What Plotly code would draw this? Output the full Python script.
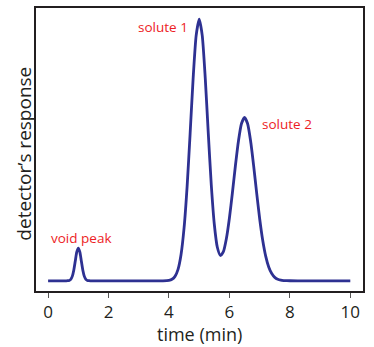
import plotly.graph_objects as go

# Chromatogram: detector response sampled along the run (min)
time_min = [0.0, 0.5, 0.6, 0.65, 0.7, 0.75, 0.8, 0.85, 0.9, 0.95, 1.0,
            1.05, 1.1, 1.15, 1.2, 1.25, 1.3, 1.35, 1.4, 1.5, 2.0, 3.0, 3.8,
            4.0, 4.1, 4.2, 4.3, 4.4, 4.5, 4.6, 4.7, 4.8, 4.9, 5.0,
            5.1, 5.2, 5.3, 5.4, 5.5, 5.6, 5.7, 5.8, 5.9, 6.0,
            6.1, 6.2, 6.3, 6.4, 6.5, 6.6, 6.7, 6.8, 6.9, 7.0,
            7.1, 7.2, 7.3, 7.4, 7.5, 7.6, 7.7, 7.8, 7.9, 8.0, 8.5, 9.0, 10.0]
response = [0.0, 0.0, 0.0, 0.0003, 0.0014, 0.0055, 0.0169, 0.0406, 0.0758, 0.1103, 0.125,
            0.1103, 0.0758, 0.0406, 0.0169, 0.0055, 0.0014, 0.0003, 0.0, 0.0, 0.0, 0.0, 0.0,
            0.0017, 0.0057, 0.0169, 0.0439, 0.1007, 0.2030, 0.3604, 0.5633, 0.7748, 0.9382, 1.0,
            0.9385, 0.7757, 0.5657, 0.3663, 0.2162, 0.1282, 0.0968, 0.1113, 0.1616, 0.2400,
            0.3375, 0.4417, 0.5356, 0.6014, 0.625, 0.6014, 0.5356, 0.4416, 0.3371, 0.2383,
            0.1559, 0.0944, 0.0529, 0.0275, 0.0132, 0.0059, 0.0024, 0.0009, 0.0003, 0.0001, 0.0, 0.0, 0.0]

# Peak labels
peak_labels = ["void peak", "solute 1", "solute 2"]
label_x = [1.08, 3.80, 7.91]
label_y = [0.165, 0.971, 0.600]

x_ticks = [0, 2, 4, 6, 8, 10]

LINE = "#2e3192"
RED = "#ed1c24"
INK = "#231f20"
FONT = "Open Sans"

fig = go.Figure()
fig.add_trace(go.Scatter(
    x=time_min, y=response, mode="lines",
    line=dict(color=LINE, width=2.8, shape="spline", smoothing=0.6),
    hoverinfo="skip", showlegend=False,
))

for txt, lx, ly in zip(peak_labels, label_x, label_y):
    fig.add_annotation(x=lx, y=ly, text=txt, showarrow=False,
                       xanchor="center", yanchor="middle",
                       font=dict(family=FONT, size=13.5, color=RED))

# Axis titles
fig.add_annotation(xref="paper", yref="paper", x=0.5, y=-0.153,
                   text="time (min)", showarrow=False,
                   xanchor="center", yanchor="middle",
                   font=dict(family=FONT, size=18, color=INK))
fig.add_annotation(xref="paper", yref="paper", x=-0.037, y=0.485,
                   text="detector’s response", showarrow=False, textangle=-90,
                   xanchor="center", yanchor="middle",
                   font=dict(family=FONT, size=19, color=INK))

fig.update_xaxes(range=[-0.4, 10.42], tickvals=x_ticks, ticks="outside",
                 ticklen=5, tickwidth=1, tickcolor="#555555",
                 showline=True, linecolor=INK, linewidth=1.5, mirror=True,
                 showgrid=False, zeroline=False,
                 tickfont=dict(family=FONT, size=17, color=INK))
fig.update_yaxes(range=[-0.039, 1.043], showticklabels=False, ticks="",
                 showline=True, linecolor=INK, linewidth=1.5, mirror=True,
                 showgrid=False, zeroline=False)

fig.update_layout(width=374, height=347,
                  margin=dict(l=36, r=11, t=6, b=56),
                  paper_bgcolor="white", plot_bgcolor="white")

fig.write_html("out.html")
